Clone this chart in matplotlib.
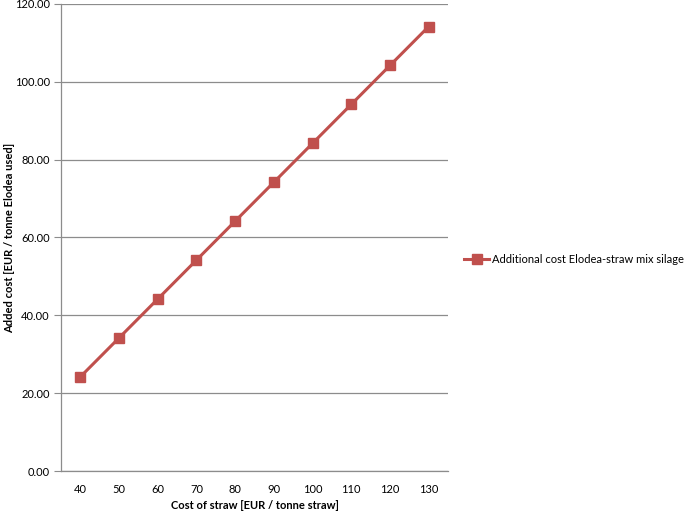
import matplotlib
matplotlib.use("Agg")
import matplotlib.pyplot as plt
import numpy as np

plt.rcParams['font.family'] = ['Lato', 'DejaVu Sans']

categories = ["40", "50", "60", "70", "80", "90", "100", "110", "120", "130"]
values = [24.2, 34.2, 44.2, 54.2, 64.2, 74.2, 84.2, 94.2, 104.2, 114.2]
yticks = [0, 20, 40, 60, 80, 100, 120]
series_name = "Additional cost Elodea-straw mix silage"

W, H = 685, 511
fig = plt.figure(figsize=(W/100, H/100), dpi=100)
ax = fig.add_axes([61/W, (H-471)/H, (448-61)/W, (471-4)/H])

x = np.arange(len(categories))
line, = ax.plot(x, values, color='#C0504D', lw=2.2, marker='s', markersize=7,
                markerfacecolor='#C0504D', markeredgecolor='#C0504D', label=series_name)

ax.set_xlim(-0.5, len(categories) - 0.5)
ax.set_ylim(0, 120)
ax.set_yticks(yticks)
ax.set_yticklabels([f"{v:.2f}" for v in yticks], fontsize=8)
ax.set_xticks(x)
ax.set_xticklabels(categories, fontsize=8)
ax.yaxis.grid(True, color='#8c8c8c', lw=0.9)
ax.set_axisbelow(True)
for s in ['top', 'right']:
    ax.spines[s].set_visible(False)
for s in ['left', 'bottom']:
    ax.spines[s].set_color('#8c8c8c')
    ax.spines[s].set_linewidth(0.9)
ax.tick_params(axis='y', length=5, color='#8c8c8c', pad=3)
ax.tick_params(axis='x', length=0, pad=9)

ax.set_xlabel("Cost of straw [EUR / tonne straw]", fontsize=8, fontweight='bold', labelpad=4)
ax.set_ylabel("Added cost [EUR / tonne Elodea used]", fontsize=8, fontweight='bold')
ax.yaxis.set_label_coords(-0.118, 0.5)

fig.legend(handles=[line], loc='center left', bbox_to_anchor=(460/W, 1 - 259/H),
           frameon=False, fontsize=8, handlelength=2.2, handletextpad=0.3, borderaxespad=0)

fig.savefig("out.png", dpi=100, facecolor='white')
